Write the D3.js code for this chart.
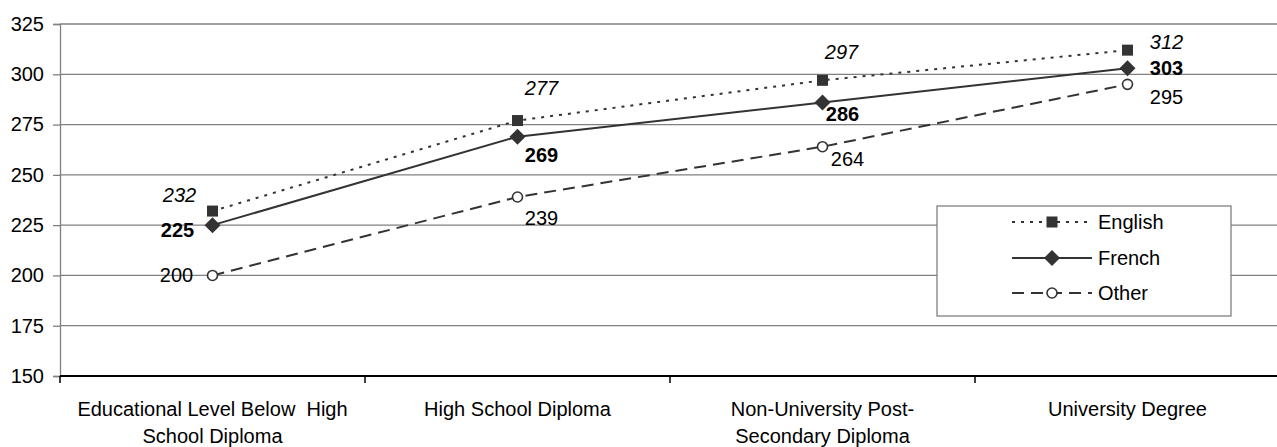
<!DOCTYPE html>
<html><head><meta charset="utf-8">
<script src="https://cdn.jsdelivr.net/npm/d3@7"></script>
<style>
body{margin:0;background:#fff;}
svg{display:block;font-family:"Liberation Sans",Arial,sans-serif;}
</style></head>
<body><svg id="c" width="1277" height="447"></svg>
<script>
const categories = [["Educational Level Below\u00a0 High","School Diploma"],["High School Diploma"],["Non-University Post-","Secondary Diploma"],["University Degree"]];
const english = [232, 277, 297, 312];
const french = [225, 269, 286, 303];
const other = [200, 239, 264, 295];
const yTicks = [150, 175, 200, 225, 250, 275, 300, 325];
const seriesNames = ["English", "French", "Other"];

// label placement (styling)
const labelOffsets = {
  English: [[-33,-16],[24,-33],[19,-28],[39,-8]],
  French: [[-35,5],[24,18],[20,12],[39,0]],
  Other: [[-36,0],[24,21],[25,12],[39,13]]
};

(function(){
const FS = 20;
const svg = d3.select("#c");
const mL = 60, mR = 1280, mT = 24, mB = 376;
const x = d3.scaleBand().domain(d3.range(categories.length)).range([mL, mR]).padding(0);
const y = d3.scaleLinear().domain([150, 325]).range([mB, mT]);
const cx = i => x(i) + x.bandwidth() / 2;
const dark = "#333333";

// gridlines
svg.append("g").selectAll("line").data(yTicks.filter(t => t > 150)).join("line")
  .attr("x1", mL).attr("x2", 1277).attr("y1", d => y(d)).attr("y2", d => y(d))
  .attr("stroke", "#808080").attr("stroke-width", 1.3);

// y axis
const ya = svg.append("g").attr("transform", `translate(${mL},0)`)
  .call(d3.axisLeft(y).tickValues(yTicks).tickSize(7).tickPadding(9));
ya.attr("font-size", FS).attr("font-family", "Liberation Sans, Arial, sans-serif");
ya.select(".domain").attr("stroke", "#808080").attr("stroke-width", 1.3);
ya.selectAll(".tick line").attr("stroke", "#808080").attr("stroke-width", 1.3);
ya.selectAll("text").attr("font-size", FS).attr("fill", "#000");

// x axis
const xa = svg.append("g").attr("transform", `translate(0,${mB})`);
xa.append("line").attr("x1", mL).attr("x2", 1277).attr("stroke", "#000").attr("stroke-width", 2.2);
const bounds = d3.range(categories.length + 1).map(i => i < categories.length ? x(i) : x(i - 1) + x.bandwidth());
xa.selectAll(".xt").data(bounds).join("line").attr("class", "xt")
  .attr("x1", d => d).attr("x2", d => d).attr("y1", 0).attr("y2", 7)
  .attr("stroke", "#000").attr("stroke-width", 1.5);
const xl = xa.selectAll(".xl").data(categories).join("text").attr("class", "xl")
  .attr("text-anchor", "middle").attr("font-size", FS).attr("fill", "#000");
xl.each(function(d, i) {
  d3.select(this).selectAll("tspan").data(d).join("tspan")
    .attr("x", cx(i)).attr("y", (s, j) => 40 + j * 27).text(s => s);
});

const line = d3.line().x((d, i) => cx(i)).y(d => y(d));
const series = [
  {name: "English", vals: english, dash: "3,6", label: {style: "italic", weight: "normal"}},
  {name: "French", vals: french, dash: null, label: {style: "normal", weight: "bold"}},
  {name: "Other", vals: other, dash: "12,7", label: {style: "normal", weight: "normal"}}
];

function marker(g, name, px, py) {
  if (name === "English") {
    g.append("rect").attr("x", px - 5.5).attr("y", py - 5.5).attr("width", 11).attr("height", 11).attr("fill", dark);
  } else if (name === "French") {
    g.append("path").attr("d", `M${px},${py-8}L${px+8},${py}L${px},${py+8}L${px-8},${py}Z`).attr("fill", dark);
  } else {
    g.append("circle").attr("cx", px).attr("cy", py).attr("r", 5).attr("fill", "#fff").attr("stroke", dark).attr("stroke-width", 1.6);
  }
}

series.forEach(s => {
  const g = svg.append("g");
  g.append("path").datum(s.vals).attr("d", line).attr("fill", "none")
    .attr("stroke", dark).attr("stroke-width", 2).attr("stroke-dasharray", s.dash);
  s.vals.forEach((v, i) => marker(g, s.name, cx(i), y(v)));
  g.selectAll("text").data(s.vals).join("text")
    .attr("x", (v, i) => cx(i) + labelOffsets[s.name][i][0])
    .attr("y", (v, i) => y(v) + labelOffsets[s.name][i][1])
    .attr("dy", "0.35em").attr("text-anchor", "middle")
    .attr("font-size", FS).attr("font-style", s.label.style).attr("font-weight", s.label.weight)
    .attr("fill", "#000").text(v => v);
});

// legend
const lg = svg.append("g");
lg.append("rect").attr("x", 937).attr("y", 206).attr("width", 294).attr("height", 110)
  .attr("fill", "#fff").attr("stroke", "#808080").attr("stroke-width", 1.3);
series.forEach((s, k) => {
  const ly = [222, 258, 293][k];
  lg.append("line").attr("x1", 1012).attr("x2", 1092).attr("y1", ly).attr("y2", ly)
    .attr("stroke", dark).attr("stroke-width", 2).attr("stroke-dasharray", s.dash);
  marker(lg, s.name, 1052, ly);
  lg.append("text").attr("x", 1098).attr("y", ly).attr("dy", "0.35em").attr("font-size", FS).attr("fill", "#000").text(s.name);
});
})();
</script></body></html>
